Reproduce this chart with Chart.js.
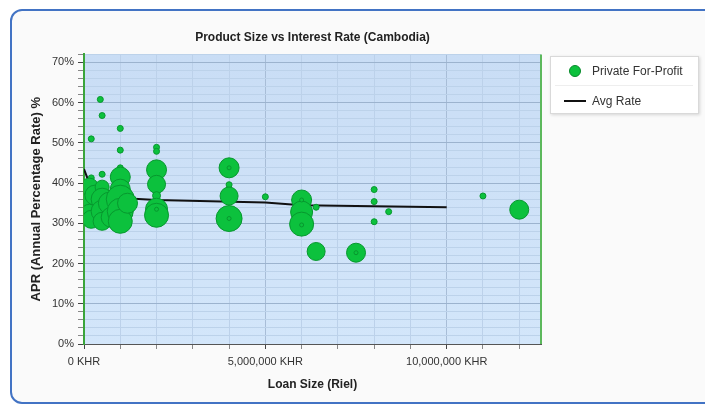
<!DOCTYPE html>
<html>
<head>
<meta charset="utf-8">
<script src="https://cdn.jsdelivr.net/npm/chart.js@4/dist/chart.umd.min.js"></script>
<style>
html,body{margin:0;padding:0;background:#ffffff;width:705px;height:405px;overflow:hidden;font-family:"Liberation Sans",Arial,sans-serif;}
#frame{position:absolute;left:10px;top:9px;width:760px;height:391px;border:2px solid #4273c4;border-radius:12px;background:#fafafa;}
#wrap{position:absolute;left:0;top:0;width:705px;height:405px;}
#legend{position:absolute;left:550px;top:56px;width:147px;height:56px;background:#fff;border:1px solid #d9d9d9;box-shadow:1px 1px 3px rgba(0,0,0,0.15);}
.lg-item{position:absolute;left:0;width:147px;height:20px;}
.lg-text{position:absolute;left:41px;top:3px;font-size:12px;color:#333;white-space:nowrap;line-height:14px;}
.lg-dot{position:absolute;left:18px;top:4px;width:10px;height:10px;border-radius:50%;background:#0cc13d;border:1px solid #078a2b;}
.lg-line{position:absolute;left:13px;top:9px;width:22px;height:2px;background:#111;}
#sep{position:absolute;left:4px;top:28px;width:138px;height:1px;background:#eeeeee;}
</style>
</head>
<body>
<div id="frame"></div>
<div id="wrap"><canvas id="c" width="705" height="405"></canvas></div>
<div id="legend">
  <div class="lg-item" style="top:4px"><div class="lg-dot"></div><div class="lg-text">Private For-Profit</div></div>
  <div id="sep"></div>
  <div class="lg-item" style="top:34px"><div class="lg-line"></div><div class="lg-text">Avg Rate</div></div>
</div>
<script>
// ---- data ----
const seriesName = 'Private For-Profit';
const avgName = 'Avg Rate';
const loanSizes = [
  200000, 450000, 500000, 1000000, 1000000, 2000000, 2000000,
  200000, 150000, 200000, 150000, 200000, 300000,
  500000, 500000, 500000, 500000, 500000, 700000, 750000,
  1000000, 1000000, 1000000, 1000000, 1000000, 1000000, 1200000,
  2000000, 2000000, 2000000, 2000000, 2000000, 2000000,
  4000000, 4000000, 4000000, 4000000, 4000000, 4000000,
  5000000,
  6000000, 6000000, 6000000, 6000000, 6000000, 6400000, 6400000,
  7500000, 7500000,
  8000000, 8000000, 8400000, 8000000,
  11000000, 12000000
];
const aprValues = [
  51.0, 60.8, 56.8, 53.6, 48.2, 48.9, 47.9,
  41.3, 39.0, 35.5, 32.5, 31.0, 37.0,
  42.2, 39.0, 36.0, 33.0, 30.5, 35.0, 31.5,
  43.8, 41.5, 38.5, 36.0, 33.0, 30.5, 35.0,
  43.3, 39.7, 36.9, 33.5, 32.0, 33.5,
  43.8, 39.6, 36.8, 31.2, 31.2, 43.8,
  36.6,
  35.8, 32.8, 29.8, 35.8, 29.6, 34.0, 23.0,
  22.7, 22.7,
  38.4, 35.4, 32.9, 30.4,
  36.8, 33.4
];
const bubbleSizes = [
  3, 3, 3, 3, 3, 3, 3,
  3, 9, 10, 9, 9, 10,
  3, 7, 11, 11, 9, 11, 10,
  3, 10, 10, 14, 13, 12, 10,
  10, 9, 4, 11, 12, 2,
  10, 3, 9, 13, 2, 2,
  3,
  10, 11, 12, 2, 2, 3, 9,
  9.5, 2,
  3, 3, 3, 3,
  3, 9.5
];
const avgLoanSizes = [0, 250000, 1000000, 2000000, 5000000, 6000000, 10000000];
const avgRates = [43.5, 37.5, 36.3, 35.8, 35.2, 34.5, 34.0];
// axis ticks
const xGridValues = [0, 1000000, 2000000, 3000000, 4000000, 5000000, 6000000, 7000000, 8000000, 9000000, 10000000, 11000000, 12000000];
const xTickValues = [0, 5000000, 10000000];
const yTickValues = [0, 10, 20, 30, 40, 50, 60, 70];

Chart.defaults.font.family = '"Liberation Sans", Arial, sans-serif';
Chart.defaults.font.size = 11;
Chart.defaults.color = '#333';

const isX = v => xTickValues.includes(Math.round(v));
const isY = v => yTickValues.includes(Math.round(v * 1000) / 1000);

const bubblePoints = loanSizes.map((x, i) => ({x: x, y: aprValues[i], r: bubbleSizes[i]}));
const avgPoints = avgLoanSizes.map((x, i) => ({x: x, y: avgRates[i]}));

const plotDecor = {
  id: 'plotDecor',
  beforeDraw(chart) {
    const {ctx, chartArea: a} = chart;
    ctx.save();
    const g = ctx.createLinearGradient(0, a.top, 0, a.bottom);
    g.addColorStop(0, '#c9ddf5');
    g.addColorStop(1, '#d3e6fa');
    ctx.fillStyle = g;
    ctx.fillRect(a.left, a.top, a.right - a.left, a.bottom - a.top);
    ctx.restore();
  },
  afterDraw(chart) {
    const {ctx, chartArea: a} = chart;
    ctx.save();
    ctx.strokeStyle = '#5cb85c';
    ctx.lineWidth = 2;
    ctx.beginPath();
    ctx.moveTo(a.right, a.top);
    ctx.lineTo(a.right, a.bottom);
    ctx.stroke();
    ctx.restore();
  }
};

new Chart(document.getElementById('c'), {
  data: {
    datasets: [
      {
        type: 'bubble',
        label: seriesName,
        data: bubblePoints,
        backgroundColor: '#0cc13d',
        borderColor: '#07982e',
        borderWidth: 1,
        order: 0
      },
      {
        type: 'line',
        label: avgName,
        data: avgPoints,
        borderColor: '#111',
        borderWidth: 2,
        pointRadius: 0,
        fill: false,
        tension: 0,
        order: 1
      }
    ]
  },
  options: {
    responsive: false,
    animation: false,
    devicePixelRatio: 1,
    layout: {padding: {top: 30, right: 164, bottom: 0, left: 0}},
    plugins: {
      legend: {display: false},
      tooltip: {enabled: false},
      title: {
        display: true,
        text: 'Product Size vs Interest Rate (Cambodia)',
        fullSize: false,
        color: '#222',
        font: {size: 12, weight: 'bold'},
        padding: {top: 0, bottom: 10}
      }
    },
    scales: {
      x: {
        type: 'linear',
        min: 0,
        max: 12600000,
        afterBuildTicks: s => { s.ticks = xGridValues.map(v => ({value: v})); },
        ticks: {
          autoSkip: false,
          maxRotation: 0,
          padding: 6,
          color: '#333',
          callback: v => isX(v) ? Math.round(v).toLocaleString('en-US') + ' KHR' : ''
        },
        grid: {
          color: c => (c.tick && isX(c.tick.value)) ? '#a8bdd7' : '#bcd1ea',
          tickLength: 5,
          tickColor: c => (c.tick && isX(c.tick.value)) ? '#444' : '#888'
        },
        border: {color: '#555', width: 1},
        title: {
          display: true,
          text: 'Loan Size (Riel)',
          color: '#222',
          font: {size: 12, weight: 'bold'},
          padding: {top: 0, bottom: 13}
        },
        afterFit: s => { s.height = 61; }
      },
      y: {
        type: 'linear',
        min: 0,
        max: 72,
        ticks: {
          stepSize: 2,
          autoSkip: false,
          padding: 4,
          color: '#333',
          callback: v => isY(v) ? Math.round(v) + '%' : ''
        },
        grid: {
          color: c => (c.tick && isY(c.tick.value)) ? '#9cb3ce' : '#bcd2ea',
          tickLength: 6,
          tickColor: c => (c.tick && isY(c.tick.value)) ? '#444' : '#888'
        },
        border: {color: '#3aa53a', width: 2},
        title: {
          display: true,
          text: 'APR (Annual Percentage Rate) %',
          color: '#222',
          font: {size: 13, weight: 'bold'},
          padding: {top: 29, bottom: 0}
        },
        afterFit: s => { s.width = 84; }
      }
    }
  },
  plugins: [plotDecor]
});
</script>
</body>
</html>
